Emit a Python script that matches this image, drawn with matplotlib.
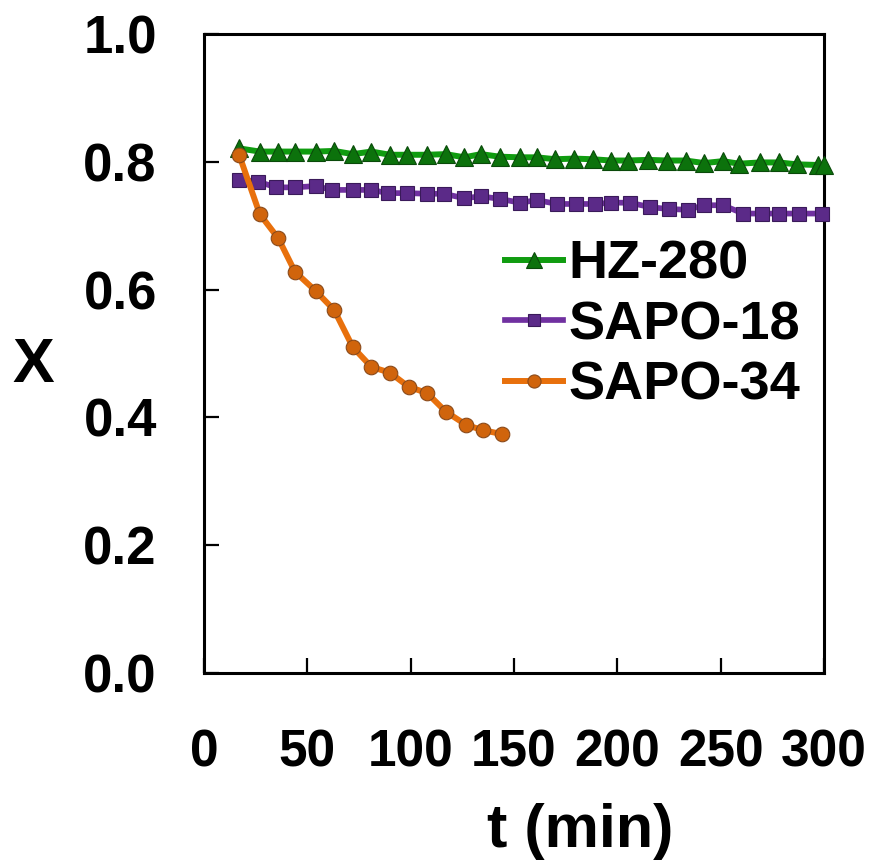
import matplotlib
matplotlib.use("Agg")
import matplotlib.pyplot as plt
from matplotlib import font_manager

# ---------------- data ----------------
t_hz = [17, 27, 36, 44, 54, 63, 72, 81, 90, 98, 108, 117, 126, 134, 143,
        153, 161, 170, 179, 188, 197, 205, 215, 224, 233, 242, 251, 259,
        269, 278, 287, 297, 300]
x_hz = [0.821, 0.816, 0.816, 0.816, 0.816, 0.817, 0.812, 0.816, 0.811, 0.811,
        0.811, 0.812, 0.807, 0.812, 0.808, 0.807, 0.807, 0.804, 0.805, 0.804,
        0.802, 0.802, 0.803, 0.802, 0.802, 0.798, 0.801, 0.797, 0.799, 0.799,
        0.796, 0.795, 0.795]

t_s18 = [17, 26, 35, 44, 54, 62, 72, 81, 89, 98, 108, 116, 126, 134, 143,
         153, 161, 171, 180, 189, 197, 206, 216, 225, 234, 242, 251, 261,
         270, 278, 288, 299]
x_s18 = [0.772, 0.769, 0.760, 0.760, 0.762, 0.756, 0.756, 0.756, 0.751, 0.751,
         0.750, 0.750, 0.743, 0.746, 0.742, 0.736, 0.740, 0.734, 0.734, 0.734,
         0.736, 0.736, 0.729, 0.726, 0.725, 0.732, 0.732, 0.719, 0.719, 0.719,
         0.719, 0.719]

t_s34 = [17, 27, 36, 44, 54, 63, 72, 81, 90, 99, 108, 117, 127, 135, 144]
x_s34 = [0.811, 0.718, 0.680, 0.628, 0.598, 0.568, 0.510, 0.479, 0.470, 0.448,
         0.438, 0.409, 0.388, 0.380, 0.374]

labels = ["HZ-280", "SAPO-18", "SAPO-34"]
xticks = [0, 50, 100, 150, 200, 250, 300]
yticks = [0.0, 0.2, 0.4, 0.6, 0.8, 1.0]

# ---------------- fonts ----------------
available = {f.name for f in font_manager.fontManager.ttflist}
main_font = "Liberation Sans" if "Liberation Sans" in available else "DejaVu Sans"
narrow_font = "Liberation Sans Narrow" if "Liberation Sans Narrow" in available else main_font
narrow_size = 42 if narrow_font != main_font else 37
plt.rcParams["font.family"] = [main_font, "DejaVu Sans"]
plt.rcParams["font.weight"] = "bold"

W, H = 869, 861
fig = plt.figure(figsize=(W / 100, H / 100), dpi=100)
ax = fig.add_axes([204 / W, (H - 673) / H, 620 / W, 639 / H])

ax.plot(t_hz, x_hz, color="#109c10", lw=4.3, marker="^", ms=13,
        mfc="#0c720c", mec="#0a4a0a", mew=0.8, label=labels[0], zorder=3,
        clip_on=False)
ax.plot(t_s18, x_s18, color="#7030a0", lw=4.1, marker="s", ms=10,
        mfc="#5b2a88", mec="#3a1a5a", mew=0.8, label=labels[1], zorder=4,
        clip_on=False)
ax.plot(t_s34, x_s34, color="#e8700c", lw=4.3, marker="o", ms=10.5,
        mfc="#d0640c", mec="#8a4a1a", mew=0.8, label=labels[2], zorder=5,
        clip_on=False)

ax.set_xlim(0, 300)
ax.set_ylim(0, 1.0)
ax.set_xticks(xticks)
ax.set_yticks(yticks)
ax.set_yticklabels([f"{v:.1f}" for v in yticks], fontsize=38,
                   fontweight="bold", family=[main_font, "DejaVu Sans"])
ax.set_xticklabels([str(v) for v in xticks], fontsize=narrow_size,
                   fontweight="bold", family=[narrow_font, main_font])

for s in ax.spines.values():
    s.set_linewidth(2.2)
ax.tick_params(axis="y", direction="in", length=11, width=1.6, pad=34)
ax.tick_params(axis="x", direction="in", length=11, width=1.6, pad=40)

fig.text(580 / W, 1 - 832 / H, "t (min)", fontsize=44, fontweight="bold",
         ha="center", va="center")
fig.text(33 / W, 1 - 365 / H, "X", fontsize=45, fontweight="bold",
         ha="center", va="center")

ax.legend(loc="upper left", bbox_to_anchor=(505 / W, 1 - 240 / H),
          bbox_transform=fig.transFigure, frameon=False,
          prop={"weight": "bold", "size": 39},
          handlelength=1.07, handletextpad=0.10, labelspacing=0.19,
          borderpad=0, borderaxespad=0, markerscale=0.9)

fig.savefig("out.png", dpi=100)
